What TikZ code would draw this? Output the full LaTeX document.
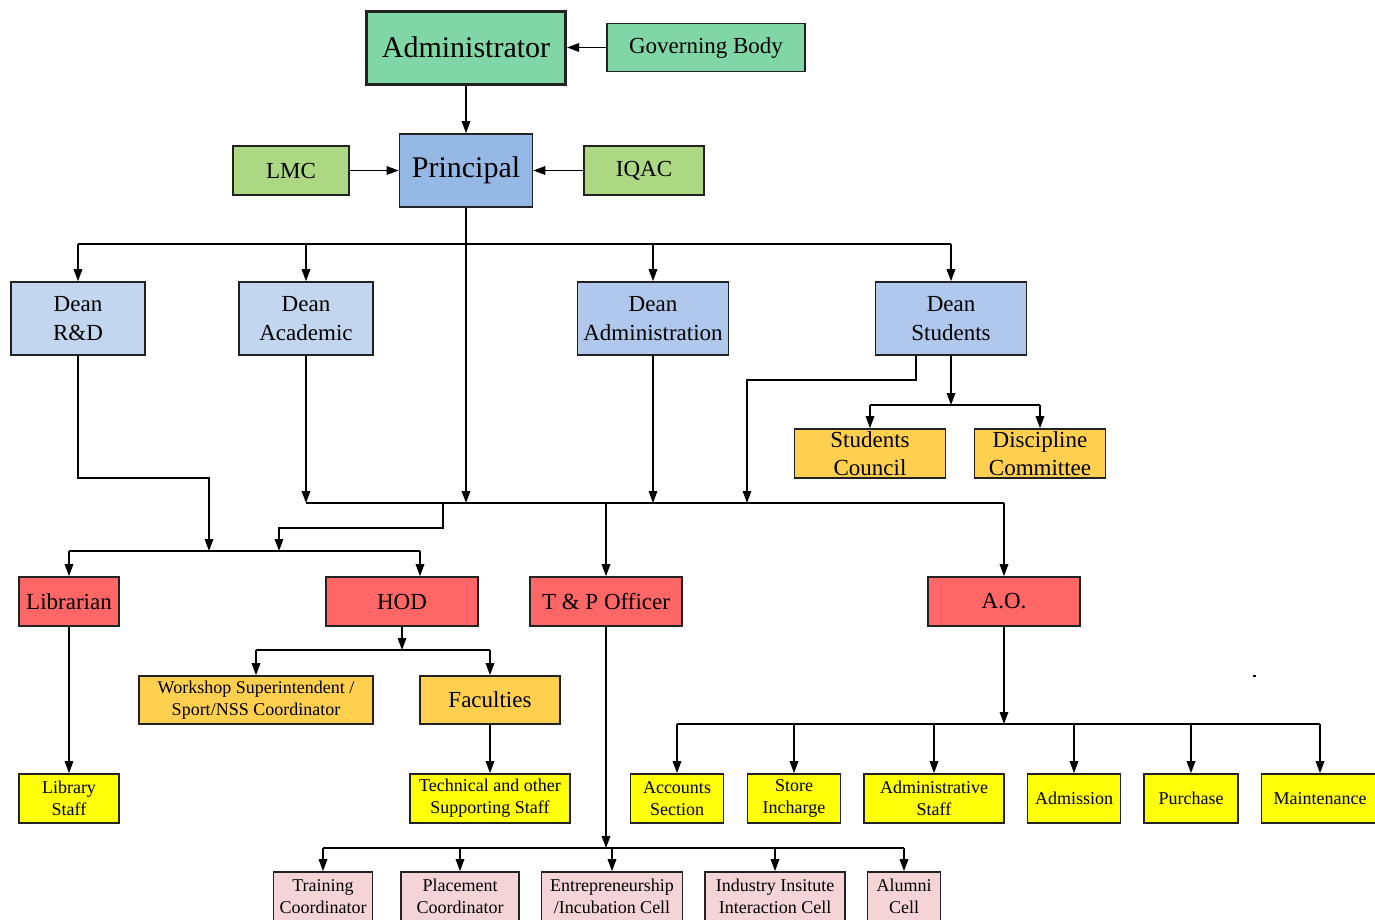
\documentclass[tikz,border=0pt]{standalone}
\usepackage{fontspec}
\setmainfont{Liberation Serif}
\usetikzlibrary{arrows.meta}
\definecolor{greenA}{RGB}{128,214,164}
\definecolor{greenB}{RGB}{172,216,132}
\definecolor{blueA}{RGB}{150,184,228}
\definecolor{blueB}{RGB}{194,214,240}
\definecolor{blueC}{RGB}{176,200,236}
\definecolor{goldA}{RGB}{255,208,80}
\definecolor{redA}{RGB}{255,102,102}
\definecolor{yellowA}{RGB}{255,255,10}
\definecolor{pinkA}{RGB}{244,212,214}
\definecolor{edge}{RGB}{34,34,34}
\tikzset{
  box/.style={draw=edge, line width=1.6pt, rectangle, align=center, inner sep=0pt, text=black},
  big/.style={font=\fontsize{30}{36}\selectfont},
  mid/.style={font=\fontsize{23}{28.5}\selectfont},
  sml/.style={font=\fontsize{18}{22}\selectfont},
  arr/.style={-{Triangle[length=12pt,width=8.5pt]}, line width=1.6pt, draw=black},
  ln/.style={line width=1.6pt, draw=black}
}
\begin{document}
\begin{tikzpicture}[x=1pt,y=-1pt]
\useasboundingbox (0,0) rectangle (1375,919);
% top
\node[box,big,fill=greenA,line width=3pt,minimum width=199pt,minimum height=73pt] (admin) at (466,47.5) {Administrator};
\node[box,mid,fill=greenA,minimum width=198pt,minimum height=48pt] (gov) at (706,47.5) {Governing Body};
\node[box,mid,fill=greenB,minimum width=116pt,minimum height=49pt] (lmc) at (291,170.5) {LMC};
\node[box,big,fill=blueA,minimum width=133pt,minimum height=73pt] (princ) at (466,170.5) {Principal};
\node[box,mid,fill=greenB,minimum width=120pt,minimum height=49pt] (iqac) at (644,170.5) {IQAC};
% deans
\node[box,mid,fill=blueB,minimum width=134pt,minimum height=73pt] (dRD) at (78,318.5) {Dean\\R\&D};
\node[box,mid,fill=blueB,minimum width=134pt,minimum height=73pt] (dAc) at (306,318.5) {Dean\\Academic};
\node[box,mid,fill=blueC,minimum width=151pt,minimum height=73pt] (dAd) at (653,318.5) {Dean\\Administration};
\node[box,mid,fill=blueC,minimum width=151pt,minimum height=73pt] (dSt) at (951,318.5) {Dean\\Students};
% student bodies
\node[box,mid,fill=goldA,minimum width=151pt,minimum height=49pt] (sc) at (870,453.5) {Students\\Council};
\node[box,mid,fill=goldA,minimum width=131pt,minimum height=49pt] (dc) at (1040,453.5) {Discipline\\Committee};
% red row
\node[box,mid,fill=redA,minimum width=100pt,minimum height=49pt] (lib) at (69,601.5) {Librarian};
\node[box,mid,fill=redA,minimum width=152pt,minimum height=49pt] (hod) at (402,601.5) {HOD};
\node[box,mid,fill=redA,minimum width=152pt,minimum height=49pt] (tp) at (606,601.5) {T \& P Officer};
\node[box,mid,fill=redA,minimum width=152pt,minimum height=49pt] (ao) at (1004,601.5) {A.O.};
% under HOD
\node[box,sml,fill=goldA,minimum width=234pt,minimum height=48pt] (ws) at (256,700) {Workshop Superintendent /\\Sport/NSS Coordinator};
\node[box,mid,fill=goldA,minimum width=140pt,minimum height=48pt] (fac) at (490,700) {Faculties};
% yellow row
\node[box,sml,fill=yellowA,minimum width=100pt,minimum height=49pt] (ls) at (69,798.5) {Library\\Staff};
\node[box,sml,fill=yellowA,minimum width=160pt,minimum height=49pt] (tech) at (490,798.5) {Technical and other\\Supporting Staff};
\node[box,sml,fill=yellowA,minimum width=93pt,minimum height=49pt] (acc) at (677,798.5) {Accounts\\Section};
\node[box,sml,fill=yellowA,minimum width=93pt,minimum height=49pt] (store) at (794,798.5) {Store\\Incharge};
\node[box,sml,fill=yellowA,minimum width=140pt,minimum height=49pt] (adst) at (934,798.5) {Administrative\\Staff};
\node[box,sml,fill=yellowA,minimum width=93pt,minimum height=49pt] (adm) at (1074,798.5) {Admission};
\node[box,sml,fill=yellowA,minimum width=94pt,minimum height=49pt] (pur) at (1191,798.5) {Purchase};
\node[box,sml,fill=yellowA,minimum width=117pt,minimum height=49pt] (mnt) at (1320,798.5) {Maintenance};
% pink row
\node[box,sml,fill=pinkA,minimum width=99pt,minimum height=49pt] (tc) at (323,896.5) {Training\\Coordinator};
\node[box,sml,fill=pinkA,minimum width=118pt,minimum height=49pt] (pc) at (460,896.5) {Placement\\Coordinator};
\node[box,sml,fill=pinkA,minimum width=141pt,minimum height=49pt] (ec) at (612,896.5) {Entrepreneurship\\/Incubation Cell};
\node[box,sml,fill=pinkA,minimum width=140pt,minimum height=49pt] (ii) at (775,896.5) {Industry Insitute\\Interaction Cell};
\node[box,sml,fill=pinkA,minimum width=73pt,minimum height=49pt] (al) at (904,896.5) {Alumni\\Cell};
% stray dot
\fill (1252.5,675) rectangle (1255.5,677);

% coordinates
\coordinate (b1) at (466,244);
\coordinate (b2) at (466,503);
\coordinate (k1) at (209,478);
\coordinate (b3) at (209,551);
\coordinate (k2) at (916,380);
\coordinate (k3) at (747,503);
\coordinate (b4) at (951,405);
\coordinate (k4) at (443,503);
\coordinate (k5) at (279,528);
\coordinate (b5) at (279,551);
\coordinate (h1) at (420,551);
\coordinate (b6) at (402,650);
\coordinate (b7) at (606,848);
\coordinate (b8) at (1004,724);

% connectors top
\draw[arr] (gov) -- (admin);
\draw[arr] (admin) -- (princ);
\draw[arr] (lmc) -- (princ);
\draw[arr] (iqac) -- (princ);
\draw[arr] (princ.south) -- (b2);
\draw[ln] (dRD.north |- b1) -- (dSt.north |- b1);
\foreach \n in {dRD,dAc,dAd,dSt} \draw[arr] (\n.north |- b1) -- (\n.north);
% deans down
\draw[arr] (dRD.south) |- (k1) -- (b3);
\draw[arr] (dAc.south) -- (dAc.south |- b2);
\draw[arr] (dAd.south) -- (dAd.south |- b2);
\draw[arr] (dSt.south -| k2) -- (k2) -| (k3);
\draw[arr] (dSt.south) -- (b4);
\draw[ln] (sc.north |- b4) -- (dc.north |- b4);
\draw[arr] (sc.north |- b4) -- (sc.north);
\draw[arr] (dc.north |- b4) -- (dc.north);
% bus 503
\draw[ln] (dAc.south |- b2) -- (ao.north |- b2);
\draw[arr] (tp.north |- b2) -- (tp.north);
\draw[arr] (ao.north |- b2) -- (ao.north);
\draw[arr] (k4) |- (k5) -- (b5);
% bus 551
\draw[ln] (lib.north |- b3) -- (h1);
\draw[arr] (lib.north |- b3) -- (lib.north);
\draw[arr] (h1) -- (h1 |- hod.north);
\draw[arr] (lib) -- (ls);
% HOD
\draw[arr] (hod.south) -- (b6);
\draw[ln] (ws.north |- b6) -- (fac.north |- b6);
\draw[arr] (ws.north |- b6) -- (ws.north);
\draw[arr] (fac.north |- b6) -- (fac.north);
\draw[arr] (fac) -- (tech);
% T&P
\draw[arr] (tp.south) -- (b7);
\draw[ln] (tc.north |- b7) -- (al.north |- b7);
\foreach \n in {tc,pc,ec,ii,al} \draw[arr] (\n.north |- b7) -- (\n.north);
% A.O.
\draw[arr] (ao.south) -- (b8);
\draw[ln] (acc.north |- b8) -- (mnt.north |- b8);
\foreach \n in {acc,store,adst,adm,pur,mnt} \draw[arr] (\n.north |- b8) -- (\n.north);
\end{tikzpicture}
\end{document}
